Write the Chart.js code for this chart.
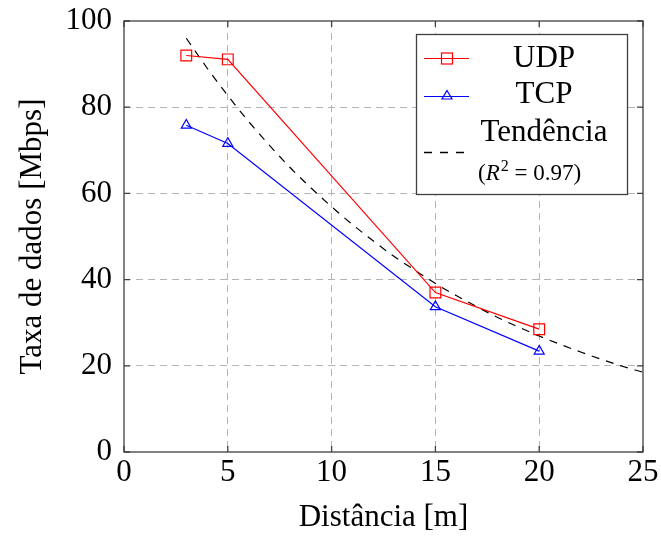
<!DOCTYPE html>
<html>
<head>
<meta charset="utf-8">
<script src="https://cdn.jsdelivr.net/npm/chart.js@4/dist/chart.umd.min.js"></script>
<style>
html,body{margin:0;padding:0;background:#fff;}
#wrap{width:661px;height:536px;}
</style>
</head>
<body>
<div id="wrap"><canvas id="c" width="661" height="536"></canvas></div>
<script>
// ---- data ----
const distances = [3, 5, 15, 20];
const udpRates = [92.0, 91.1, 37.0, 28.5];
const tcpRates = [75.8, 71.6, 33.7, 23.4];
const trendX = [3,4,5,6,7,8,9,10,11,12,13,14,15,16,17,18,19,20,21,22,23,24,25];
const trendY = [96.0,89.1,82.7,76.7,71.2,66.0,61.3,56.9,52.8,49.0,45.4,42.2,39.1,36.3,33.7,31.2,29.0,26.9,25.0,23.2,21.5,19.9,18.5];
const xTicks = [0, 5, 10, 15, 20, 25];
const yTicks = [0, 20, 40, 60, 80, 100];
const seriesNames = ['UDP', 'TCP', 'Tendência'];
const r2Label = '0.97';
const xTitle = 'Distância [m]';
const yTitle = 'Taxa de dados [Mbps]';

const FONT = '"Liberation Serif", "Times New Roman", serif';
const FS = 31;

function pts(xs, ys){ return xs.map((v,i)=>({x:v, y:ys[i]})); }

const framePlugin = {
  id: 'frame',
  afterDatasetsDraw(chart){
    const {ctx, chartArea:a, scales:{x, y}} = chart;
    ctx.save();
    ctx.strokeStyle = '#404040';
    ctx.lineWidth = 1.3;
    ctx.beginPath();
    xTicks.forEach(v => {
      const p = x.getPixelForValue(v);
      ctx.moveTo(p, a.bottom); ctx.lineTo(p, a.bottom - 6);
      ctx.moveTo(p, a.top); ctx.lineTo(p, a.top + 6);
    });
    yTicks.forEach(v => {
      const p = y.getPixelForValue(v);
      ctx.moveTo(a.left, p); ctx.lineTo(a.left + 6, p);
      ctx.moveTo(a.right, p); ctx.lineTo(a.right - 6, p);
    });
    ctx.stroke();
    ctx.strokeRect(a.left, a.top, a.right - a.left, a.bottom - a.top);
    ctx.restore();
  }
};

const legendPlugin = {
  id: 'customLegend',
  afterDraw(chart){
    const ctx = chart.ctx;
    ctx.save();
    // box
    ctx.fillStyle = '#fff';
    ctx.fillRect(416.5, 34.5, 211, 160);
    ctx.strokeStyle = '#404040';
    ctx.lineWidth = 1.3;
    ctx.strokeRect(416.5, 34.5, 211, 160);
    // UDP sample
    ctx.lineWidth = 1.2;
    ctx.strokeStyle = '#ff0000';
    ctx.beginPath(); ctx.moveTo(424, 58.5); ctx.lineTo(469, 58.5); ctx.stroke();
    ctx.strokeRect(441.5, 53, 11, 11);
    // TCP sample
    ctx.strokeStyle = '#0000ff';
    ctx.beginPath(); ctx.moveTo(424, 96.5); ctx.lineTo(469, 96.5); ctx.stroke();
    ctx.beginPath();
    ctx.moveTo(447, 90.5); ctx.lineTo(452, 99); ctx.lineTo(442, 99); ctx.closePath(); ctx.stroke();
    // trend sample
    ctx.strokeStyle = '#000';
    ctx.lineWidth = 1.3;
    ctx.setLineDash([8,8]);
    ctx.beginPath(); ctx.moveTo(424, 152.5); ctx.lineTo(465, 152.5); ctx.stroke();
    ctx.setLineDash([]);
    // texts
    ctx.fillStyle = '#000';
    ctx.font = FS + 'px ' + FONT;
    ctx.textAlign = 'center';
    ctx.textBaseline = 'alphabetic';
    ctx.fillText(seriesNames[0], 544, 67);
    ctx.fillText(seriesNames[1], 544, 103);
    ctx.fillText(seriesNames[2], 544, 141);
    // (R^2 = 0.97)
    ctx.textAlign = 'left';
    let xx = 478;
    const base = 180;
    const small = 23;
    ctx.font = small + 'px ' + FONT;
    ctx.fillText('(', xx, base); xx += ctx.measureText('(').width;
    ctx.font = 'italic ' + small + 'px ' + FONT;
    ctx.fillText('R', xx, base); xx += ctx.measureText('R').width + 1;
    ctx.font = '16px ' + FONT;
    ctx.fillText('2', xx, base - 9); xx += ctx.measureText('2').width;
    ctx.font = small + 'px ' + FONT;
    const rest = ' = ' + r2Label + ')';
    ctx.fillText(rest, xx, base);
    ctx.restore();
  }
};

const gridColor = (ctx) => {
  const v = ctx.tick ? ctx.tick.value : null;
  const sc = ctx.scale;
  if (v === sc.min || v === sc.max) return 'rgba(0,0,0,0)';
  return '#b4b4b4';
};

new Chart(document.getElementById('c'), {
  type: 'line',
  data: {
    datasets: [
      {
        label: seriesNames[0],
        data: pts(distances, udpRates),
        borderColor: '#ff0000',
        backgroundColor: 'rgba(0,0,0,0)',
        borderWidth: 1.2,
        pointStyle: 'rect',
        pointRadius: 7.6,
        pointBorderWidth: 1.2,
        pointBackgroundColor: 'rgba(0,0,0,0)',
        pointBorderColor: '#ff0000',
        tension: 0
      },
      {
        label: seriesNames[1],
        data: pts(distances, tcpRates),
        borderColor: '#0000ff',
        backgroundColor: 'rgba(0,0,0,0)',
        borderWidth: 1.2,
        pointStyle: 'triangle',
        pointRadius: 5.8,
        pointBorderWidth: 1.2,
        pointBackgroundColor: 'rgba(0,0,0,0)',
        pointBorderColor: '#0000ff',
        tension: 0
      },
      {
        label: seriesNames[2],
        data: pts(trendX, trendY),
        borderColor: '#000',
        borderWidth: 1.2,
        borderDash: [8,7],
        pointRadius: 0,
        cubicInterpolationMode: 'monotone',
        fill: false
      }
    ]
  },
  options: {
    responsive: false,
    animation: false,
    devicePixelRatio: 1,
    layout: { padding: { left: 0, top: 21, right: 18, bottom: 0 } },
    plugins: { legend: { display: false }, tooltip: { enabled: false } },
    scales: {
      x: {
        type: 'linear',
        min: 0, max: 25,
        afterFit: s => { s.height = 84; s.paddingLeft = 0; s.paddingRight = 0; },
        afterBuildTicks: s => { s.ticks = xTicks.map(v => ({value: v})); },
        ticks: { stepSize: 5, padding: 2, color: '#000', font: { family: FONT, size: FS } },
        grid: { color: gridColor, lineWidth: 1, drawTicks: false },
        border: { display: false, dash: [7,5] },
        title: { display: true, text: xTitle, color: '#000', font: { family: FONT, size: FS }, padding: { top: 0, bottom: 0 } }
      },
      y: {
        type: 'linear',
        min: 0, max: 100,
        afterFit: s => { s.width = 124; s.paddingTop = 0; s.paddingBottom = 0; },
        afterBuildTicks: s => { s.ticks = yTicks.map(v => ({value: v})); },
        ticks: { stepSize: 20, padding: 12, color: '#000', font: { family: FONT, size: FS } },
        grid: { color: gridColor, lineWidth: 1, drawTicks: false },
        border: { display: false, dash: [7,5] },
        title: { display: true, text: yTitle, color: '#000', font: { family: FONT, size: FS }, padding: { top: 14, bottom: 0 } }
      }
    }
  },
  plugins: [framePlugin, legendPlugin]
});
</script>
</body>
</html>
